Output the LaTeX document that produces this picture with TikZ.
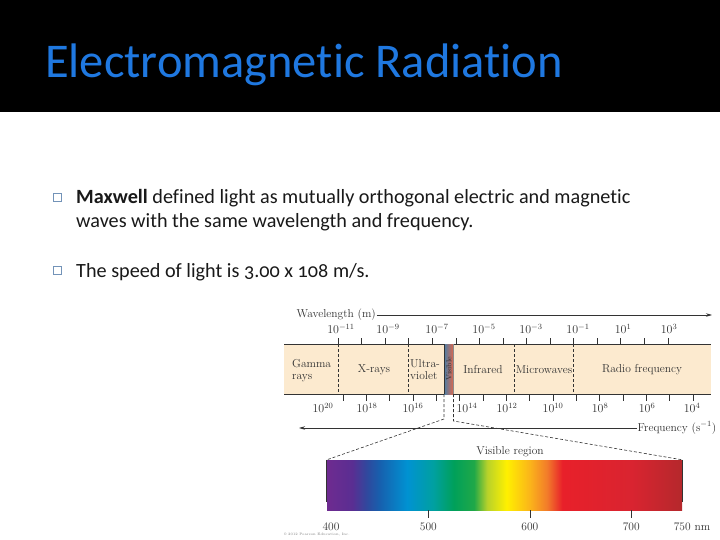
\documentclass[tikz,border=0pt]{standalone}
\usepackage{fontspec}
\newfontfamily\slidefont[Ligatures=NoCommon]{Carlito}
\usetikzlibrary{arrows.meta}
\definecolor{titleblue}{HTML}{1F78E0}
\definecolor{bandfill}{HTML}{FCEACF}
\definecolor{inkgray}{HTML}{333333}
\definecolor{bulletblue}{HTML}{7393B8}
\definecolor{sA}{HTML}{6E2B90}
\definecolor{sB}{HTML}{5A2E92}
\definecolor{sC}{HTML}{2E4A9E}
\definecolor{sD}{HTML}{1760AE}
\definecolor{sE}{HTML}{0092D2}
\definecolor{sF}{HTML}{00A0A0}
\definecolor{sG}{HTML}{00A05A}
\definecolor{sH}{HTML}{20A848}
\definecolor{sI}{HTML}{B8D22A}
\definecolor{sJ}{HTML}{FFF000}
\definecolor{sK}{HTML}{FBB41A}
\definecolor{sL}{HTML}{F27B2A}
\definecolor{sM}{HTML}{E8202A}
\definecolor{sN}{HTML}{D92430}
\definecolor{sO}{HTML}{B5282C}
\definecolor{visL}{HTML}{4A7FA8}
\definecolor{visM}{HTML}{A8CFC4}
\definecolor{visR}{HTML}{E0664A}
\pgfdeclarehorizontalshading{visspec}{100bp}{color(0bp)=(sA); color(25bp)=(sA); color(28.57bp)=(sB); color(30.71bp)=(sC); color(32.43bp)=(sD); color(36.29bp)=(sE); color(40bp)=(sF); color(42.86bp)=(sG); color(45.71bp)=(sH); color(47.57bp)=(sI); color(50.29bp)=(sJ); color(53.57bp)=(sK); color(56bp)=(sL); color(58.14bp)=(sM); color(67.86bp)=(sN); color(75bp)=(sO); color(100bp)=(sO)}
\begin{document}
\begin{tikzpicture}[x=1pt,y=-1pt,
  bodytext/.style={font=\slidefont\fontsize{20.2}{24}\selectfont, text=black!90, inner sep=0pt, anchor=base west},
  bulletbox/.style={draw=bulletblue, line width=0.7pt, minimum size=8pt, inner sep=0pt},
  lbl/.style={font=\fontsize{11.5}{12}\selectfont, text=inkgray, inner sep=0.5pt},
  axisline/.style={draw=inkgray, line width=0.7pt},
  dashline/.style={draw=inkgray, line width=0.6pt, dash pattern=on 3pt off 2pt},
  arrowline/.style={axisline, -{Stealth[length=6pt,width=3.5pt]}}]
\useasboundingbox (0,0) rectangle (720,540);
\fill[white] (0,0) rectangle (720,540);
\fill[black] (0,0) rectangle (720,112);
\node[anchor=base west, inner sep=0pt, font=\slidefont\fontsize{48.5}{52}\selectfont, text=titleblue] (title) at (45,78) {Electromagnetic Radiation};
% bullets
\node[bulletbox] (b1) at (57,197) {};
\node[bodytext] (t1) at (76,204) {\textbf{Maxwell} defined light as mutually orthogonal electric and magnetic};
\node[bodytext] (t2) at (76,228) {waves with the same wavelength and frequency.};
\node[bulletbox] (b2) at (57,270) {};
\node[bodytext] (t3) at (76,277) {The speed of light is {\addfontfeatures{Numbers=OldStyle}3.00 x 108} m/s.};
% band
\fill[bandfill] (284,344) rectangle (711,394);
\coordinate (tl) at (284,344); \coordinate (tr) at (711,344);
\coordinate (bl) at (284,394); \coordinate (br) at (711,394);
\draw[axisline] (tl) -- (tr);
\draw[axisline] (bl) -- (br);
\shade[left color=visL, middle color=visM, right color=visR] (444,344) rectangle (453.5,394);
\draw[draw=black!80, line width=0.9pt] (444,344) -- (444,394);
\draw[draw=black!45, line width=0.5pt] (453.5,344) -- (453.5,394);
\node[rotate=90, font=\fontsize{7.5}{8}\selectfont, text=inkgray, inner sep=0pt] (vis) at (448.9,369) {Visible};
% ticks
\foreach \k in {0,...,14} \draw[axisline] ({338+23.57*\k},344) -- ++(0,-6);
\foreach \k in {0,...,15} \draw[axisline] ({343+23.33*\k},394) -- ++(0,7);
% top labels
\foreach \x/\e in {341/-11, 388/-9, 437/-7, 484/-5, 531/-3, 578/-1, 623/1, 669/3}
  \node[lbl] at (\x,329) {$10^{\e}$};
% bottom labels
\foreach \x/\e in {323/20, 367/18, 413/16, 467/14, 507/12, 553/10, 600/8, 647/6, 692/4}
  \node[lbl] at (\x,408) {$10^{\e}$};
% region boundaries
\foreach \x in {338,408,514,573} \draw[dashline] (\x,344) -- (\x,394);
% region labels
\node[lbl, anchor=base west, inner sep=0pt] (gam1) at (292,367) {Gamma};
\node[lbl, anchor=base west, inner sep=0pt] (gam2) at (292,379) {rays};
\node[lbl] (xr) at (374,370) {X-rays};
\node[lbl, anchor=base west, inner sep=0pt] (uv1) at (410,367) {Ultra-};
\node[lbl, anchor=base west, inner sep=0pt] (uv2) at (410,379) {violet};
\node[lbl] (ir) at (483,370) {Infrared};
\node[lbl] (mw) at (544,370) {Microwaves};
\node[lbl] (rf) at (642,370) {Radio frequency};
% axis titles
\node[lbl, anchor=west] (wl) at (296,315) {Wavelength (m)};
\coordinate (wlend) at (712,315);
\draw[arrowline] (wl.east) -- (wlend);
\node[lbl, anchor=west] (fq) at (637,428) {Frequency (s$^{-1}$)};
\coordinate (fqend) at (299,428);
\draw[arrowline] (fq.west) -- (fqend);
% spectrum
\node[shade, shading=visspec, minimum width=355pt, minimum height=50pt, inner sep=0pt] (spec) at (504.5,485) {};
\coordinate (vl) at (444,394); \coordinate (vlb) at (444,419);
\coordinate (vr) at (453.5,394); \coordinate (vrb) at (453.5,421);
\draw[dashline] (vl) -- (vlb) -- (spec.north west);
\draw[dashline] (vr) -- (vrb) -- (spec.north east);
\node[lbl] (vreg) at (510,452) {Visible region};
\draw[axisline] (spec.north west) -- ([yshift=8pt]spec.south west);
\draw[axisline] (spec.north east) -- ([yshift=8pt]spec.south east);
\foreach \x in {428.4,529.9,631.3} \draw[axisline] (\x,510) -- (\x,518);
\node[lbl] (n400) at (331,527) {400};
\node[lbl] (n500) at (428.4,527) {500};
\node[lbl] (n600) at (529.9,527) {600};
\node[lbl] (n700) at (631.3,527) {700};
\node[lbl] (n750) at (692,527) {750 nm};
\node[anchor=west, font=\fontsize{3.5}{4}\selectfont, text=black!50, inner sep=0pt] (copy) at (284,535) {\textcopyright{} 2012 Pearson Education, Inc.};
\end{tikzpicture}
\end{document}
